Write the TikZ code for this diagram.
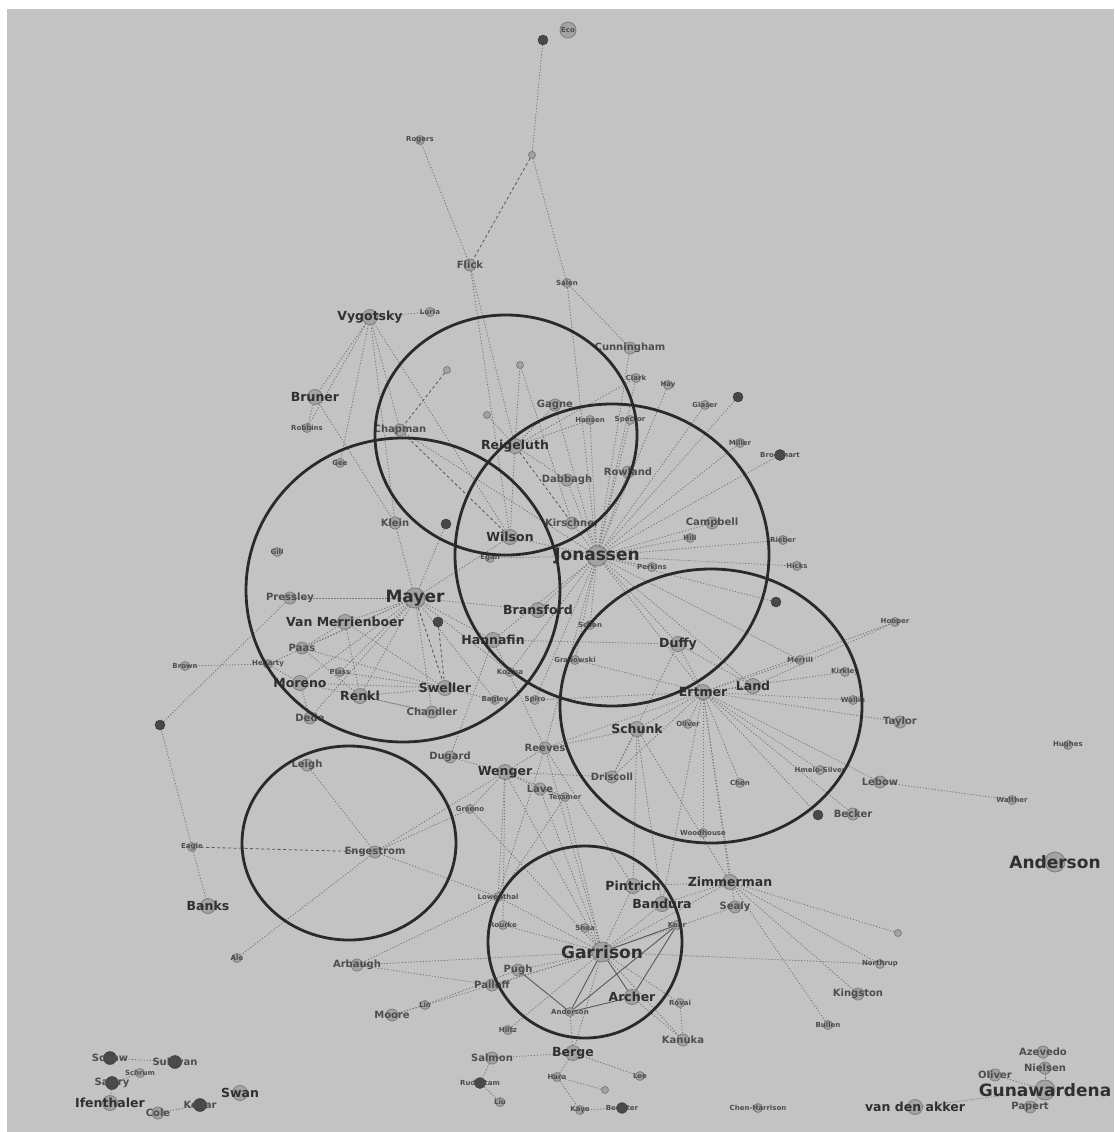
\documentclass[tikz,border=0pt]{standalone}
\usepackage{fontspec}
\setmainfont{DejaVu Sans}
\definecolor{paper}{RGB}{195,195,195}
\definecolor{nodefill}{RGB}{163,163,163}
\definecolor{nodeline}{RGB}{125,125,125}
\definecolor{darknode}{RGB}{72,72,72}
\definecolor{edgegray}{RGB}{118,118,118}
\definecolor{edgedark}{RGB}{88,88,88}
\definecolor{ringcol}{RGB}{42,42,42}
\definecolor{labtext}{RGB}{48,48,48}
\definecolor{labsoft}{RGB}{78,78,78}
\pgfdeclarelayer{back}
\pgfdeclarelayer{edges}
\pgfsetlayers{back,edges,main}
\tikzset{
  hub/.style={circle, draw=nodeline, fill=nodefill, line width=0.8pt, inner sep=0pt, minimum size=#1},
  hub/.default=12pt,
  dk/.style={circle, draw=darknode!70!black, fill=darknode, inner sep=0pt, minimum size=#1},
  dk/.default=10pt,
  lbhuge/.style={font=\fontsize{17}{17}\selectfont\bfseries, text=labtext},
  lbbig/.style={font=\fontsize{12.5}{12.5}\selectfont\bfseries, text=labtext},
  lbmid/.style={font=\fontsize{10}{10}\selectfont\bfseries, text=labsoft},
  lbsmall/.style={font=\fontsize{7}{7}\selectfont\bfseries, text=labsoft},
  lk/.style={draw=edgegray, dash pattern=on 1.2pt off 1.8pt, line width=0.8pt},
  lkd/.style={draw=edgedark, dash pattern=on 3pt off 2.5pt, line width=0.8pt},
  lks/.style={draw=edgedark, line width=0.9pt},
  ring/.style={draw=ringcol, line width=2.8pt}
}
\begin{document}
\begin{tikzpicture}[x=1pt, y=-1pt]
  \useasboundingbox (0,0) rectangle (1114,1132);
  \begin{pgfonlayer}{back}
    \fill[white] (0,0) rectangle (1114,1132);
    \fill[paper] (7,9) rectangle (1114,1132);
  \end{pgfonlayer}

  % authors, by size of label
  \foreach \n/\x/\y/\lab in {jonassen/597/556/Jonassen, mayer/415/598/Mayer,
      garrison/602/952/Garrison, anderson/1055/862/Anderson,
      gunawardena/1045/1090/Gunawardena}
    \node[hub=20pt, label={[lbhuge]center:\lab}] (\n) at (\x,\y) {};
  \foreach \n/\x/\y/\lab in {reigeluth/515/446/Reigeluth, vygotsky/370/317/Vygotsky,
      wilson/510/537/Wilson, hannafin/493/640/Hannafin, duffy/678/644/Duffy,
      ertmer/703/692/Ertmer, schunk/637/729/Schunk, wenger/505/772/Wenger,
      archer/632/997/Archer, bandura/662/904/Bandura, zimmerman/730/882/Zimmerman,
      sweller/445/688/Sweller, vanm/345/622/Van Merrienboer, moreno/300/683/Moreno,
      swan/240/1093/Swan, land/753/686/Land, bransford/538/610/Bransford,
      renkl/360/696/Renkl, vandenakker/915/1107/van den akker,
      ifenthaler/110/1103/Ifenthaler, banks/208/906/Banks, berge/573/1053/Berge,
      bruner/315/397/Bruner, pintrich/633/886/Pintrich}
    \node[hub=15pt, label={[lbbig]center:\lab}] (\n) at (\x,\y) {};
  \foreach \n/\x/\y/\lab in {klein/395/523/Klein, flick/470/265/Flick,
      pressley/290/598/Pressley, paas/302/648/Paas, chandler/432/712/Chandler,
      dede/310/718/Dede, dugard/450/757/Dugard, lave/540/789/Lave,
      reeves/545/748/Reeves, driscoll/612/777/Driscoll, engestrom/375/852/Engestrom,
      palloff/492/985/Palloff, pugh/518/970/Pugh, kanuka/683/1040/Kanuka,
      salmon/492/1058/Salmon, oliver/995/1075/Oliver, azevedo/1043/1052/Azevedo,
      nielsen/1045/1068/Nielsen, papert/1030/1107/Papert, dabbagh/567/480/Dabbagh,
      rowland/628/472/Rowland, gagne/555/405/Gagne, chapman/400/430/Chapman,
      campbell/712/523/Campbell, cunningham/630/348/Cunningham,
      arbaugh/357/965/Arbaugh, moore/392/1015/Moore, sealy/735/907/Sealy,
      kingston/858/994/Kingston, taylor/900/722/Taylor, becker/853/814/Becker,
      lebow/880/782/Lebow, leigh/307/765/Leigh, kirschner/572/523/Kirschner,
      cole/158/1113/Cole}
    \node[hub=12pt, label={[lbmid]center:\lab}] (\n) at (\x,\y) {};
  \foreach \n/\x/\y/\lab in {salen/567/283/Salen, rogers/420/140/Rogers,
      luria/430/312/Luria, robbins/307/428/Robbins, gee/340/463/Gee,
      hansen/590/420/Hansen, spector/630/420/Spector, clark/636/378/Clark,
      hay/668/385/Hay, glaser/705/405/Glaser, miller/740/443/Miller,
      egan/490/558/Egan, perkins/652/567/Perkins, hill/690/538/Hill,
      rieber/783/540/Rieber, hicks/797/566/Hicks, hooper/895/622/Hooper,
      schon/590/625/Schon, grabowski/575/660/Grabowski, kozma/510/672/Kozma,
      bagley/495/700/Bagley, spiro/535/700/Spiro, tessmer/565/797/Tessmer,
      greeno/470/809/Greeno, oliverb/688/724/Oliver, merrill/800/660/Merrill,
      kirkley/845/672/Kirkley, wallin/853/700/Wallin, brown/185/666/Brown,
      hegarty/268/664/Hegarty, plass/340/672/Plass, chen/740/783/Chen,
      hmelo/820/770/Hmelo-Silver, woodhouse/703/833/Woodhouse,
      hughes/1068/745/Hughes, walther/1012/800/Walther, eagle/192/847/Eagle,
      lowenthal/498/897/Lowenthal, rourke/503/925/Rourke, shea/585/928/Shea,
      kear/677/925/Kear, andersont/570/1012/Anderson, rovai/680/1003/Rovai,
      northrup/880/964/Northrup, bullen/828/1025/Bullen, hara/557/1077/Hara,
      hiltz/508/1030/Hiltz, kaye/580/1110/Kaye, chenh/758/1108/Chen-Harrison,
      schrum/140/1073/Schrum, lin/425/1005/Lin, lee/640/1076/Lee,
      liu/500/1102/Liu, ale/237/958/Ale, gill/277/552/Gill}
    \node[hub=9pt, label={[lbsmall]center:\lab}] (\n) at (\x,\y) {};
  \foreach \n/\x/\y/\lab in {brookhart/780/455/Brookhart, rudestam/480/1083/Rudestam,
      bereiter/622/1108/Bereiter}
    \node[dk=11pt, label={[lbsmall]center:\lab}] (\n) at (\x,\y) {};
  \node[hub=16pt, label={[lbsmall]center:Eco}] (eco) at (568,30) {};
  \foreach \n/\x/\y/\lab in {schaw/110/1058/Schaw, sullivan/175/1062/Sullivan,
      sawry/112/1083/Sawry, kollar/200/1105/Kollar}
    \node[dk=13pt, label={[lbmid]center:\lab}] (\n) at (\x,\y) {};
  \foreach \n/\x/\y in {pb/532/155, pc/447/370, pd/520/365, pe/487/415,
      pf/898/933, pg/605/1090}
    \node[hub=7pt] (\n) at (\x,\y) {};
  \foreach \n/\x/\y in {pa/543/40, da/738/397, db/446/524, dc/438/622, dd/776/602,
      de/160/725, df/818/815}
    \node[dk=10pt] (\n) at (\x,\y) {};

  % citation links
  \begin{pgfonlayer}{edges}
    \foreach \a/\b in {pa/pb, pb/salen, rogers/flick, flick/reigeluth, flick/wilson,
        salen/cunningham, salen/jonassen, vygotsky/luria, vygotsky/bruner,
        vygotsky/chapman, vygotsky/robbins, vygotsky/gee, vygotsky/wilson,
        vygotsky/klein, bruner/robbins, bruner/klein, reigeluth/gagne,
        reigeluth/wilson, reigeluth/dabbagh, reigeluth/pe, reigeluth/pd,
        reigeluth/hansen, reigeluth/clark, pd/kirschner,
        jonassen/wilson, jonassen/kirschner, jonassen/dabbagh, jonassen/rowland,
        jonassen/hansen, jonassen/spector, jonassen/clark, jonassen/hay,
        jonassen/glaser, jonassen/miller, jonassen/brookhart, jonassen/campbell,
        jonassen/hill, jonassen/rieber, jonassen/hicks, jonassen/perkins,
        jonassen/egan, jonassen/bransford, jonassen/schon, jonassen/grabowski,
        jonassen/duffy, jonassen/hannafin, jonassen/cunningham, jonassen/land,
        jonassen/kozma, jonassen/spiro, jonassen/reeves, jonassen/merrill,
        jonassen/gagne, jonassen/da, jonassen/dd, jonassen/chapman,
        mayer/pressley, mayer/vanm, mayer/paas, mayer/moreno, mayer/renkl,
        mayer/chandler, mayer/hegarty, mayer/plass, mayer/dede, mayer/klein,
        mayer/hannafin, mayer/bagley, mayer/kozma, mayer/bransford, mayer/db,
        mayer/wilson, sweller/vanm, sweller/paas, sweller/renkl, sweller/moreno,
        sweller/plass, sweller/bagley, vanm/paas, vanm/renkl, paas/renkl,
        moreno/chandler, moreno/dede, renkl/chandler, hegarty/moreno,
        ertmer/duffy, ertmer/land, ertmer/schunk, ertmer/oliverb, ertmer/merrill,
        ertmer/kirkley, ertmer/wallin, ertmer/taylor, ertmer/hmelo, ertmer/lebow,
        ertmer/becker, ertmer/chen, ertmer/woodhouse, ertmer/driscoll,
        ertmer/hooper, ertmer/grabowski, ertmer/zimmerman, ertmer/bandura,
        ertmer/sealy, ertmer/jonassen, ertmer/df, ertmer/reeves, ertmer/spiro,
        duffy/hannafin, duffy/land, land/hooper, schunk/driscoll,
        schunk/zimmerman, schunk/bandura, schunk/pintrich, schunk/reeves,
        wenger/lave, wenger/dugard, wenger/greeno, wenger/tessmer, wenger/reeves,
        wenger/lowenthal, wenger/rourke, wenger/driscoll, wenger/garrison,
        lave/tessmer, lave/garrison, lowenthal/reeves, lowenthal/tessmer,
        garrison/pugh, garrison/palloff, garrison/rourke, garrison/shea,
        garrison/lowenthal, garrison/bandura, garrison/pintrich, garrison/berge,
        garrison/kanuka, garrison/rovai, garrison/arbaugh, garrison/moore,
        garrison/hiltz, garrison/zimmerman, garrison/sealy, garrison/northrup,
        garrison/tessmer, garrison/reeves, garrison/greeno, pintrich/reeves,
        pintrich/zimmerman, bandura/zimmerman, reeves/hannafin,
        engestrom/leigh, engestrom/wenger, engestrom/lowenthal, engestrom/ale,
        engestrom/greeno, eagle/banks, eagle/de, de/pressley, brown/hegarty,
        kingston/zimmerman, northrup/zimmerman, bullen/zimmerman, pf/zimmerman,
        walther/lebow, berge/salmon, salmon/rudestam, berge/hara, hara/kaye,
        rudestam/liu, berge/andersont, kanuka/archer, lee/berge, bereiter/kaye,
        moore/lin, lin/pugh, arbaugh/lowenthal, arbaugh/palloff, pg/hara,
        azevedo/nielsen, nielsen/gunawardena, oliver/gunawardena,
        papert/gunawardena, vandenakker/gunawardena, schrum/sawry,
        sawry/ifenthaler, cole/kollar, schaw/sullivan, dugard/hannafin,
        driscoll/duffy, rovai/kanuka}
      \draw[lk] (\a) -- (\b);
    \foreach \a/\b in {pb/flick, pc/chapman, mayer/sweller, dc/sweller,
        engestrom/eagle, reigeluth/kirschner, wilson/chapman}
      \draw[lkd] (\a) -- (\b);
    \foreach \a/\b in {garrison/archer, garrison/andersont, garrison/kear,
        archer/andersont, archer/kear, andersont/kear, andersont/pugh}
      \draw[lks] (\a) -- (\b);
  \end{pgfonlayer}

  % clusters
  \draw[ring] (506,435) ellipse (131 and 120);
  \draw[ring] (403,590) ellipse (157 and 152);
  \draw[ring] (612,555) ellipse (157 and 151);
  \draw[ring] (711,706) ellipse (151 and 137);
  \draw[ring] (349,843) ellipse (107 and 97);
  \draw[ring] (585,942) ellipse (97 and 96);
\end{tikzpicture}
\end{document}
